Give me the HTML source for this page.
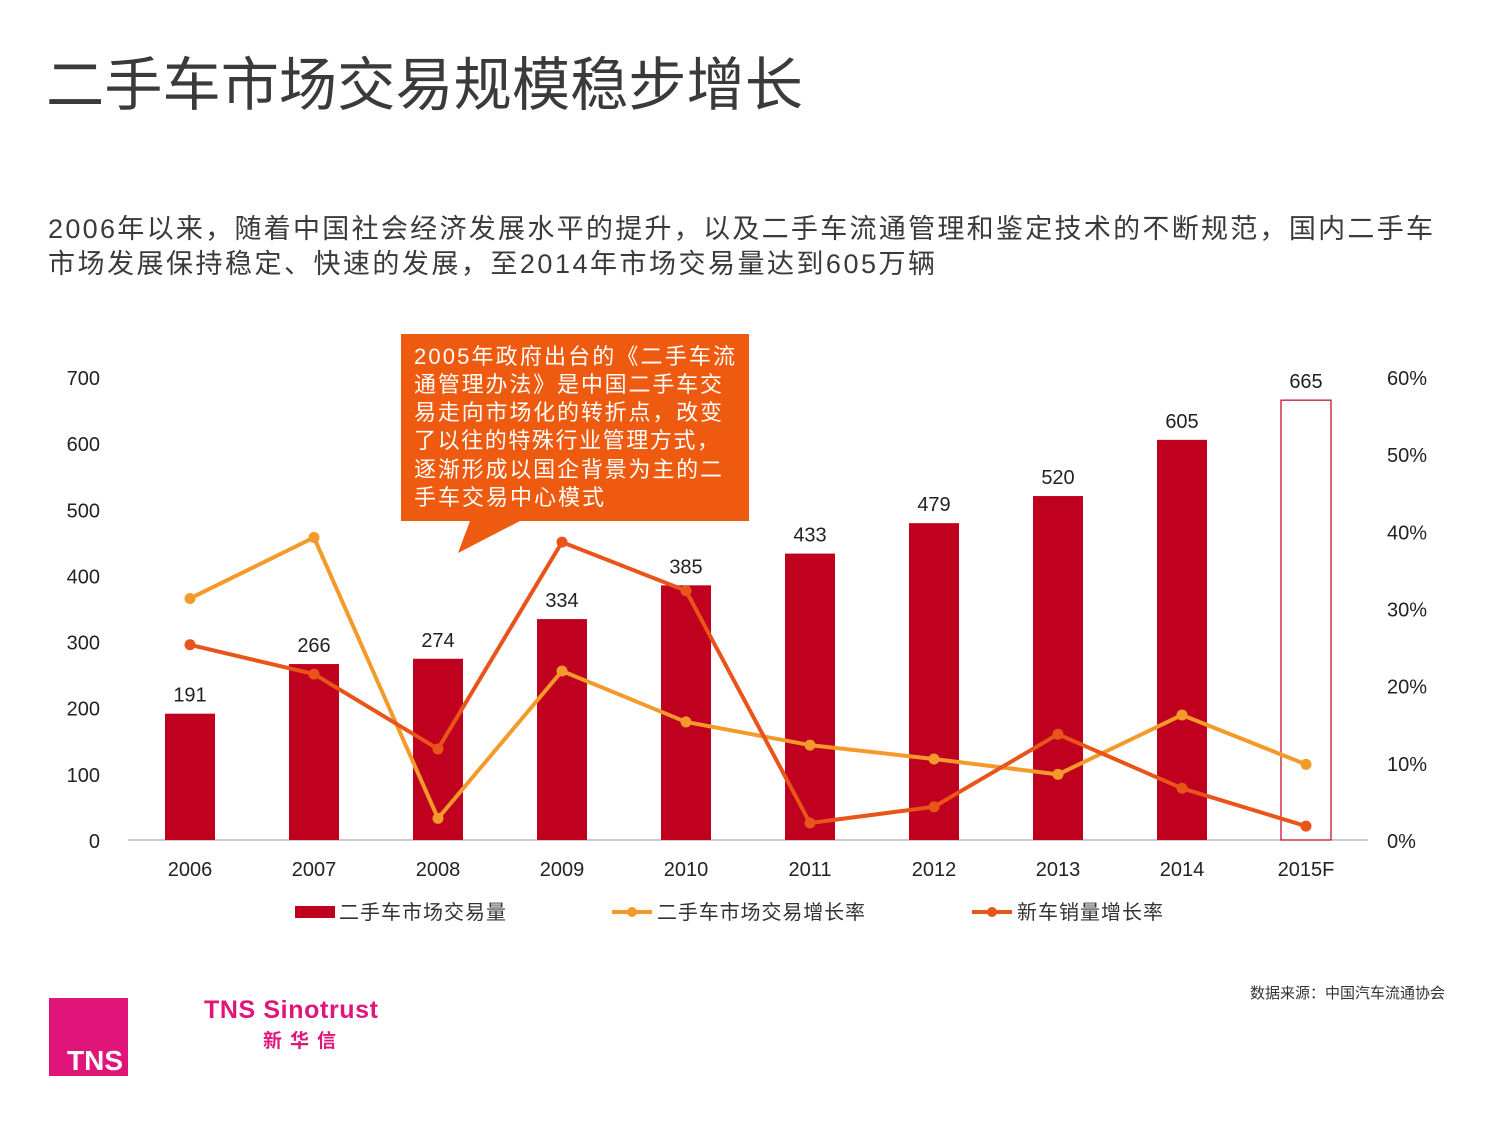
<!DOCTYPE html>
<html><head><meta charset="utf-8">
<style>
body{margin:0;background:#fff;}
svg text{font-family:"Liberation Sans","Noto Sans CJK SC",sans-serif;}
</style></head>
<body>
<svg id="chart" width="1500" height="1125" viewBox="0 0 1500 1125" xmlns="http://www.w3.org/2000/svg">
<text x="46" y="105" font-size="58" fill="#3a3a3a" textLength="757" lengthAdjust="spacingAndGlyphs">二手车市场交易规模稳步增长</text>
<text x="48" y="238" font-size="27" fill="#3a3a3a" textLength="1385" lengthAdjust="spacing">2006年以来，随着中国社会经济发展水平的提升，以及二手车流通管理和鉴定技术的不断规范，国内二手车</text>
<text x="48" y="273" font-size="27" fill="#3a3a3a" textLength="887" lengthAdjust="spacing">市场发展保持稳定、快速的发展，至2014年市场交易量达到605万辆</text>
<g id="plot"></g>
<g>
<polygon points="401,334 749,334 749,521 520,521 458,553 470,521 401,521" fill="#ee5a0f"/>
<g font-size="22" fill="#fff">
<text x="414" y="364" textLength="321" lengthAdjust="spacing">2005年政府出台的《二手车流</text>
<text x="414" y="392" textLength="308" lengthAdjust="spacing">通管理办法》是中国二手车交</text>
<text x="414" y="420" textLength="308" lengthAdjust="spacing">易走向市场化的转折点，改变</text>
<text x="414" y="448" textLength="305" lengthAdjust="spacing">了以往的特殊行业管理方式，</text>
<text x="414" y="477" textLength="308">逐渐形成以国企背景为主的二</text>
<text x="414" y="505" textLength="190">手车交易中心模式</text>
</g></g>
<g>
<rect x="295" y="906" width="40" height="12" fill="#c0001f"/>
<text x="339" y="919" font-size="20" fill="#333" textLength="167">二手车市场交易量</text>
<line x1="612" y1="912" x2="652" y2="912" stroke="#f39a2b" stroke-width="4"/>
<circle cx="632" cy="912" r="5" fill="#f39a2b"/>
<text x="657" y="919" font-size="20" fill="#333" textLength="208">二手车市场交易增长率</text>
<line x1="972" y1="912" x2="1012" y2="912" stroke="#e8541a" stroke-width="4"/>
<circle cx="992" cy="912" r="5" fill="#e8541a"/>
<text x="1017" y="919" font-size="20" fill="#333" textLength="146">新车销量增长率</text>
</g>
<text x="1445" y="998" font-size="15" fill="#333" text-anchor="end">数据来源：中国汽车流通协会</text>
<g>
<rect x="49" y="998" width="79" height="78" fill="#e0157a"/>
<text x="95" y="1070" font-size="28" font-weight="bold" fill="#fff" text-anchor="middle">TNS</text>
<text x="204" y="1018" font-size="25" font-weight="bold" fill="#e0157a" textLength="174">TNS Sinotrust</text>
<text x="263" y="1047" font-size="19" font-weight="bold" fill="#e0157a" letter-spacing="8">新华信</text>
</g>
</svg>
<script>
const categories=["2006","2007","2008","2009","2010","2011","2012","2013","2014","2015F"];
const volume=[191,266,274,334,385,433,479,520,605,665];
const usedGrowth=[31.3,39.2,2.8,21.9,15.3,12.3,10.5,8.5,16.2,9.8];
const newGrowth=[25.3,21.5,11.8,38.6,32.3,2.2,4.3,13.7,6.7,1.8];
const leftTicks=[0,100,200,300,400,500,600,700];
const rightTicks=[0,10,20,30,40,50,60];
const NS="http://www.w3.org/2000/svg";
const g=document.getElementById('plot');
const y0=840,yTop=377;
const yL=v=>y0-(v/700)*(y0-yTop);
const yR=v=>y0-(v/60)*(y0-yTop);
const xC=i=>190+i*124;
function mk(t,a,txt){const e=document.createElementNS(NS,t);for(const k in a)e.setAttribute(k,a[k]);if(txt!==undefined)e.textContent=txt;g.appendChild(e);return e;}
let e=mk('line',{x1:128,x2:1368,y1:y0,y2:y0,stroke:'#999','stroke-width':1});


leftTicks.forEach(v=>{const t=mk('text',{x:100,y:yL(v)+8,'font-size':20,fill:'#222','text-anchor':'end'},v);

});
rightTicks.forEach(v=>{const t=mk('text',{x:1387,y:yR(v)+8,'font-size':20,fill:'#222'},v+'%');

});
categories.forEach((c,i)=>{const t=mk('text',{x:xC(i),y:876,'font-size':20,fill:'#222','text-anchor':'middle'},c);


const last=i===categories.length-1;
const b=mk('rect',{x:xC(i)-25,y:yL(volume[i]),width:50,height:y0-yL(volume[i]),fill:last?'#fff':'#c0001f',stroke:last?'#c0001f':'none','stroke-width':1.2});


const l=mk('text',{x:xC(i),y:yL(volume[i])-12,'font-size':20,fill:'#222','text-anchor':'middle'},volume[i]);

});
function series(arr,color,name){const p=mk('polyline',{points:arr.map((v,i)=>xC(i)+','+yR(v)).join(' '),fill:'none',stroke:color,'stroke-width':4,'stroke-linejoin':'round'});


arr.forEach((v,i)=>{const c=mk('circle',{cx:xC(i),cy:yR(v),r:5.5,fill:color});

});}
series(usedGrowth,'#f39a2b','used-car-growth');
series(newGrowth,'#e8541a','new-car-growth');
</script>
</body></html>
